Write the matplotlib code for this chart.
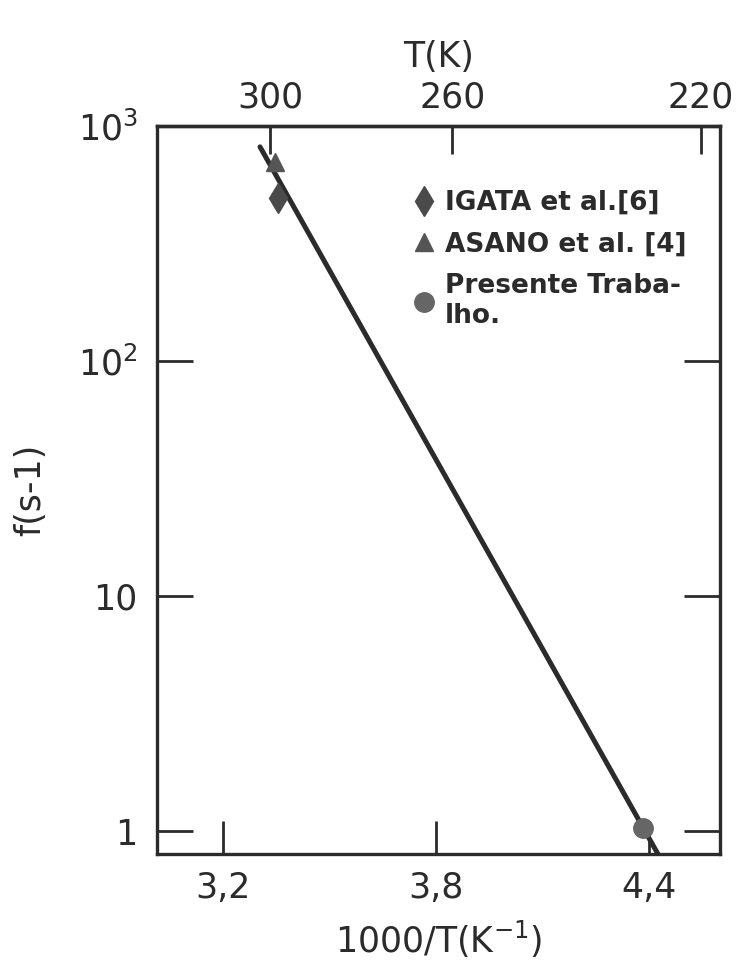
import matplotlib
matplotlib.use('Agg')
import matplotlib.pyplot as plt
from matplotlib.ticker import FixedLocator, FixedFormatter

# data (x = 1000/T, y = f in s^-1)
igata_x = [3.355]
igata_f = [494]
asano_x = [3.346]
asano_f = [703]
present_x = [4.383]
present_f = [1.03]
fit_x = [3.304, 4.425]
fit_f = [815, 0.80]

xticks = [3.2, 3.8, 4.4]
xticklabels = ['3,2', '3,8', '4,4']
yticks = [1, 10, 100, 1000]
yticklabels = ['1', '10', '$10^2$', '$10^3$']
temps = [300, 260, 220]

ink = '#2b2b2b'
plt.rcParams['font.family'] = ['DejaVu Sans']
plt.rcParams['mathtext.default'] = 'regular'

fig = plt.figure(figsize=(7.48, 9.69), dpi=100)
ax = fig.add_axes([0.21, 0.1187, 0.7526, 0.7513])

ax.plot(fit_x, fit_f, color=ink, lw=3.6, solid_capstyle='round', zorder=2)
h1, = ax.plot(igata_x, igata_f, linestyle='none', marker='d', ms=15,
              color='#4a4a4a', zorder=3, label='IGATA et al.[6]')
h2, = ax.plot(asano_x, asano_f, linestyle='none', marker='^', ms=13,
              color='#555555', zorder=3, label='ASANO et al. [4]')
h3, = ax.plot(present_x, present_f, linestyle='none', marker='o', ms=14,
              color='#666666', zorder=3, label='Presente Traba-\nlho.')

ax.set_yscale('log')
ax.set_xlim(3.014, 4.60)
ax.set_ylim(0.80, 1000)

ax.xaxis.set_major_locator(FixedLocator(xticks))
ax.xaxis.set_major_formatter(FixedFormatter(xticklabels))
ax.yaxis.set_major_locator(FixedLocator(yticks))
ax.yaxis.set_major_formatter(FixedFormatter(yticklabels))
ax.yaxis.set_minor_locator(FixedLocator([]))

for s in ax.spines.values():
    s.set_linewidth(2.4)
    s.set_color(ink)

ax.tick_params(axis='x', which='major', direction='in', length=24, width=2,
               color=ink, labelsize=25, pad=12, labelcolor=ink, top=False)
ax.tick_params(axis='y', which='major', direction='in', length=26, width=2,
               color=ink, labelsize=25, pad=14, labelcolor=ink, right=True)

# top axis in kelvin
top = ax.secondary_xaxis('top', functions=(lambda v: 1000.0 / v, lambda v: 1000.0 / v))
top.xaxis.set_major_locator(FixedLocator(temps))
top.xaxis.set_minor_locator(FixedLocator([]))
top.xaxis.set_major_formatter(FixedFormatter([str(t) for t in temps]))
top.tick_params(direction='in', length=20, width=2, color=ink, labelsize=25,
                pad=8, labelcolor=ink)
top.spines['top'].set_linewidth(2.4)
top.set_xlabel('T(K)', fontsize=25, color=ink, labelpad=10)

ax.set_xlabel('1000/T(K$^{-1}$)', fontsize=25, color=ink, labelpad=10)
ax.set_ylabel('f(s-1)', fontsize=25, color=ink, labelpad=22)

leg = ax.legend(handles=[h1, h2, h3], loc='upper left',
                bbox_to_anchor=(0.41, 0.945), frameon=False,
                handletextpad=0.35, handlelength=0.9, labelspacing=0.6,
                prop={'size': 19, 'weight': 'bold'})
for t in leg.get_texts():
    t.set_color(ink)

fig.savefig('out.png', dpi=100, facecolor='white')
